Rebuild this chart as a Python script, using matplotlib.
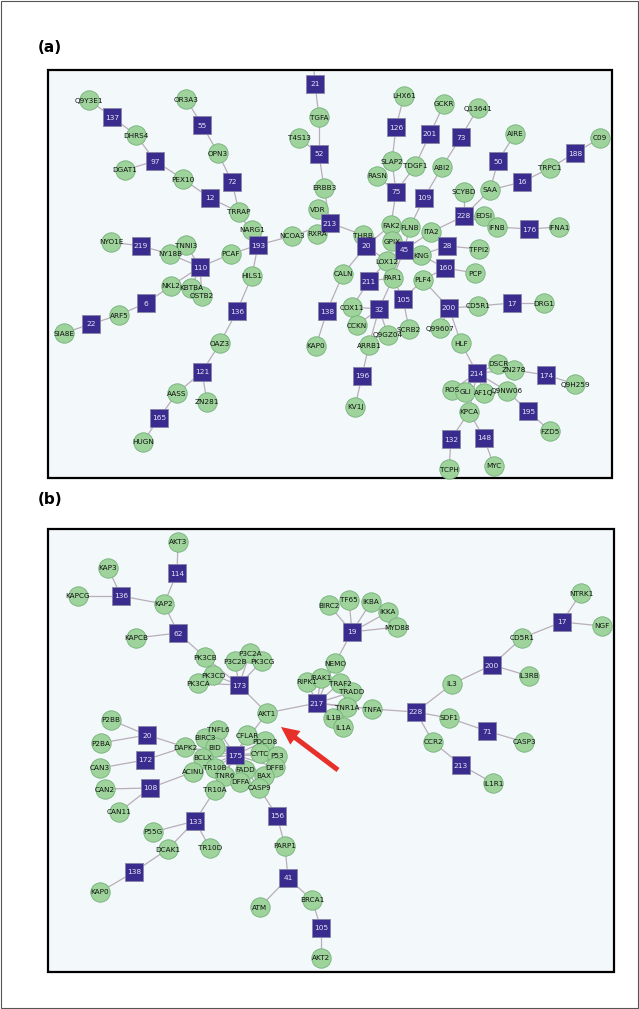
import matplotlib
matplotlib.use("Agg")
import matplotlib.pyplot as plt
from matplotlib.patches import Rectangle, FancyArrow

# ---------------- Panel (a) data ----------------
a_prot = ["Q9Y3E1", "DHRS4", "DGAT1", "PEX10", "TRRAP", "OR3A3", "OPN3", "NYO1E", "TNNI3", "NY18B",
          "PCAF", "NARG1", "HILS1", "NCOA3", "RXRA", "VDR", "ERBB3", "TGFA", "T4S13", "THRB",
          "CALN", "LHX61", "SLAP2", "TDGF1", "RASN", "FAK2", "FLNB", "GPIX", "LOX12", "PAR1",
          "GCKR", "Q13641", "ABI2", "AIRE", "C09", "TRPC1", "SAA", "SCYBD", "EDSI", "IFNB",
          "IFNA1", "ITA2", "TFPI2", "KNG", "PCP", "PLF4", "CD5R1", "DRG1", "Q99607", "HLF",
          "DSCR", "ZN278", "Q9H259", "ROS", "GLI", "AF1Q", "Q9NW06", "KPCA", "FZD5", "TCPH",
          "MYC", "COX11", "CCKN", "Q9GZ04", "SCRB2", "KAP0", "ARRB1", "KV1J", "NKL2", "KBTBA",
          "OSTB2", "ARF5", "SIA8E", "OAZ3", "AASS", "ZN281", "HUGN"]
a_prot_x = [89, 136, 125, 183, 239, 186, 218, 111, 186, 170,
            231, 252, 252, 292, 317, 318, 324, 319, 299, 363,
            343, 404, 392, 415, 377, 391, 410, 392, 387, 393,
            444, 478, 442, 515, 600, 550, 490, 464, 484, 497,
            559, 431, 479, 421, 475, 423, 478, 544, 440, 461,
            498, 514, 575, 452, 465, 484, 507, 469, 550, 449,
            494, 352, 357, 388, 409, 316, 369, 355, 171, 191,
            202, 119, 64, 220, 177, 207, 143]
a_prot_y = [100, 135, 170, 179, 212, 99, 153, 242, 245, 254,
            254, 230, 276, 236, 234, 209, 188, 117, 138, 235,
            274, 96, 161, 166, 176, 225, 227, 241, 261, 278,
            104, 108, 167, 134, 138, 168, 190, 192, 216, 227,
            227, 232, 249, 255, 273, 280, 306, 303, 328, 343,
            364, 370, 384, 390, 392, 393, 391, 412, 431, 469,
            466, 307, 325, 335, 329, 346, 345, 407, 286, 288,
            296, 315, 333, 343, 393, 402, 442]
a_cplx = ["137", "97", "12", "55", "72", "219", "110", "193", "213", "52",
          "21", "20", "211", "138", "32", "196", "105", "45", "126", "75",
          "201", "109", "73", "50", "16", "188", "228", "176", "28", "160",
          "200", "17", "214", "174", "195", "132", "148", "6", "22", "136",
          "121", "165"]
a_cplx_x = [112, 155, 210, 202, 232, 141, 200, 258, 330, 319,
            315, 366, 369, 327, 379, 362, 403, 404, 396, 396,
            430, 424, 461, 498, 522, 575, 464, 529, 447, 445,
            449, 512, 477, 546, 528, 451, 484, 146, 91, 237,
            202, 159]
a_cplx_y = [117, 161, 198, 125, 182, 246, 267, 245, 223, 154,
            84, 246, 281, 311, 309, 376, 299, 250, 127, 192,
            134, 198, 137, 161, 182, 153, 216, 229, 246, 268,
            308, 303, 373, 375, 411, 439, 438, 303, 324, 311,
            372, 418]
a_edges = [("Q9Y3E1", "137"), ("137", "DHRS4"), ("DHRS4", "97"), ("97", "DGAT1"), ("97", "PEX10"),
           ("PEX10", "12"), ("12", "TRRAP"), ("OR3A3", "55"), ("55", "OPN3"), ("OPN3", "72"),
           ("72", "TRRAP"), ("TRRAP", "193"), ("NARG1", "193"), ("PCAF", "193"), ("NCOA3", "193"),
           ("HILS1", "193"), ("NCOA3", "213"), ("RXRA", "213"), ("VDR", "213"), ("ERBB3", "213"),
           ("THRB", "213"), ("ERBB3", "52"), ("52", "TGFA"), ("52", "T4S13"), ("TGFA", "21"),
           ("THRB", "20"), ("20", "CALN"), ("20", "FAK2"), ("20", "LOX12"), ("CALN", "138"),
           ("138", "KAP0"), ("211", "COX11"), ("211", "PAR1"), ("211", "LOX12"), ("32", "COX11"),
           ("32", "CCKN"), ("32", "Q9GZ04"), ("32", "ARRB1"), ("32", "PAR1"), ("ARRB1", "196"),
           ("196", "KV1J"), ("105", "PAR1"), ("105", "SCRB2"), ("105", "PLF4"), ("45", "FAK2"),
           ("45", "GPIX"), ("45", "FLNB"), ("45", "KNG"), ("45", "LOX12"), ("45", "PAR1"),
           ("45", "ITA2"), ("109", "FLNB"), ("109", "ABI2"), ("75", "SLAP2"), ("75", "RASN"),
           ("75", "TDGF1"), ("75", "FAK2"), ("126", "LHX61"), ("126", "SLAP2"), ("201", "GCKR"),
           ("201", "TDGF1"), ("73", "Q13641"), ("73", "ABI2"), ("228", "SCYBD"), ("228", "SAA"),
           ("228", "EDSI"), ("228", "ITA2"), ("228", "IFNB"), ("50", "AIRE"), ("50", "SAA"),
           ("16", "SAA"), ("16", "TRPC1"), ("188", "TRPC1"), ("188", "C09"), ("176", "IFNB"),
           ("176", "IFNA1"), ("28", "ITA2"), ("28", "TFPI2"), ("28", "KNG"), ("160", "KNG"),
           ("160", "PCP"), ("160", "PLF4"), ("200", "PLF4"), ("200", "CD5R1"), ("200", "Q99607"),
           ("200", "HLF"), ("17", "CD5R1"), ("17", "DRG1"), ("214", "HLF"), ("214", "DSCR"),
           ("214", "ZN278"), ("214", "ROS"), ("214", "GLI"), ("214", "AF1Q"), ("214", "Q9NW06"),
           ("214", "KPCA"), ("174", "ZN278"), ("174", "Q9H259"), ("195", "Q9NW06"), ("195", "FZD5"),
           ("132", "KPCA"), ("132", "TCPH"), ("148", "KPCA"), ("148", "MYC"), ("219", "NYO1E"),
           ("219", "NY18B"), ("110", "NY18B"), ("110", "TNNI3"), ("110", "PCAF"), ("110", "NKL2"),
           ("110", "KBTBA"), ("110", "OSTB2"), ("6", "NKL2"), ("6", "ARF5"), ("22", "ARF5"),
           ("22", "SIA8E"), ("136", "HILS1"), ("136", "OAZ3"), ("121", "OAZ3"), ("121", "AASS"),
           ("121", "ZN281"), ("165", "AASS"), ("165", "HUGN")]

# ---------------- Panel (b) data ----------------
b_prot = ["AKT3", "KAP3", "KAPCG", "KAP2", "KAPCB", "PK3CB", "P3C2B", "P3C2A", "PK3CG", "PK3CD",
          "PK3CA", "BIRC2", "TF65", "IKBA", "IKKA", "MYD88", "NEMO", "RIPK1", "IRAK1", "TRAF2",
          "TRADD", "TNR1A", "TNFA", "IL1B", "IL1A", "AKT1", "NTRK1", "NGF", "CD5R1", "IL3RB",
          "IL3", "SDF1", "CASP3", "CCR2", "IL1R1", "P2BB", "P2BA", "DAPK2", "CAN3", "CAN2",
          "CAN11", "BIRC3", "TNFL6", "BID", "BCLX", "ACINU", "TR10B", "TNR6", "TR10A", "CFLAR",
          "PDCD8", "CYTC", "P53", "DFFB", "FADD", "BAX", "DFFA", "CASP9", "P55G", "TR10D",
          "DCAK1", "KAP0", "PARP1", "ATM", "BRCA1", "AKT2"]
b_prot_x = [178, 108, 78, 164, 136, 205, 235, 250, 262, 213,
            198, 329, 349, 371, 388, 397, 335, 307, 321, 340,
            352, 347, 372, 333, 343, 267, 581, 602, 522, 529,
            452, 449, 524, 433, 493, 111, 101, 185, 100, 105,
            119, 205, 218, 215, 203, 193, 215, 225, 215, 247,
            265, 260, 277, 275, 245, 264, 240, 259, 153, 210,
            168, 100, 285, 260, 312, 321]
b_prot_y = [542, 568, 596, 604, 638, 657, 661, 653, 661, 675,
            683, 605, 600, 602, 612, 627, 663, 682, 678, 683,
            692, 707, 709, 718, 727, 713, 593, 626, 638, 676,
            684, 718, 742, 742, 783, 720, 743, 747, 768, 789,
            812, 738, 730, 747, 758, 772, 768, 776, 790, 735,
            741, 753, 756, 767, 770, 776, 782, 788, 832, 848,
            849, 892, 846, 907, 900, 958]
b_cplx = ["114", "136", "62", "173", "19", "217", "228", "17", "200", "71",
          "213", "20", "172", "108", "175", "133", "138", "156", "41", "105"]
b_cplx_x = [177, 121, 178, 239, 352, 317, 416, 562, 492, 487,
            461, 147, 145, 150, 235, 195, 134, 277, 288, 321]
b_cplx_y = [573, 596, 633, 685, 632, 703, 712, 622, 665, 731,
            765, 735, 760, 788, 755, 821, 872, 816, 878, 928]
b_edges = [("AKT3", "114"), ("114", "KAP2"), ("KAP3", "136"), ("KAPCG", "136"), ("136", "KAP2"),
           ("KAP2", "62"), ("KAPCB", "62"), ("62", "PK3CB"), ("173", "PK3CB"), ("173", "P3C2B"),
           ("173", "P3C2A"), ("173", "PK3CG"), ("173", "PK3CD"), ("173", "PK3CA"), ("173", "AKT1"),
           ("AKT1", "217"), ("AKT1", "175"), ("217", "RIPK1"), ("217", "IRAK1"), ("217", "TRAF2"),
           ("217", "TRADD"), ("217", "TNR1A"), ("217", "IL1B"), ("217", "IL1A"), ("217", "NEMO"),
           ("217", "TNFA"), ("19", "NEMO"), ("19", "BIRC2"), ("19", "TF65"), ("19", "IKBA"),
           ("19", "IKKA"), ("19", "MYD88"), ("228", "TNFA"), ("228", "IL3"), ("228", "SDF1"),
           ("228", "CCR2"), ("200", "IL3"), ("200", "CD5R1"), ("200", "IL3RB"), ("17", "CD5R1"),
           ("17", "NTRK1"), ("17", "NGF"), ("71", "SDF1"), ("71", "CASP3"), ("213", "CCR2"),
           ("213", "IL1R1"), ("20", "P2BB"), ("20", "P2BA"), ("20", "DAPK2"), ("172", "CAN3"),
           ("172", "DAPK2"), ("108", "CAN2"), ("108", "CAN11"), ("108", "ACINU"), ("175", "BIRC3"),
           ("175", "TNFL6"), ("175", "BID"), ("175", "BCLX"), ("175", "DAPK2"), ("175", "ACINU"),
           ("175", "TR10B"), ("175", "TNR6"), ("175", "DFFA"), ("175", "FADD"), ("175", "CASP9"),
           ("175", "CFLAR"), ("175", "PDCD8"), ("175", "CYTC"), ("175", "P53"), ("175", "DFFB"),
           ("175", "BAX"), ("175", "TR10A"), ("133", "TR10A"), ("133", "P55G"), ("133", "TR10D"),
           ("133", "DCAK1"), ("138", "DCAK1"), ("138", "KAP0"), ("156", "CASP9"), ("156", "PARP1"),
           ("41", "PARP1"), ("41", "ATM"), ("41", "BRCA1"), ("105", "BRCA1"), ("105", "AKT2")]

# ---------------- drawing ----------------
W, H = 639, 1009
fig = plt.figure(figsize=(W / 100, H / 100), dpi=100)
ax = fig.add_axes([0, 0, 1, 1])
ax.set_xlim(0, W)
ax.set_ylim(H, 0)
ax.axis("off")

BG = "#f3f8fb"
GREEN = "#9ed49b"
GREEN_EDGE = "#73b07a"
SQ = "#3a2b8e"
EDGE = "#b9aeb8"

# outer border
ax.add_patch(Rectangle((0.8, 0.8), W - 1.6, H - 1.6, fill=False, ec="#555555", lw=0.8))

frames = [(48, 70, 564, 408), (48, 529, 566, 443)]
for (fx, fy, fw, fh) in frames:
    ax.add_patch(Rectangle((fx, fy), fw, fh, fc=BG, ec="black", lw=1.6, zorder=1))

ax.text(38, 48, "(a)", fontsize=11, fontweight="bold", va="center", ha="left")
ax.text(38, 500, "(b)", fontsize=11, fontweight="bold", va="center", ha="left")


def draw_panel(prot, px, py, cplx, cx, cy, edges, extra=None):
    pos = {}
    for n, x, y in zip(prot, px, py):
        pos[n] = (x, y)
    for n, x, y in zip(cplx, cx, cy):
        pos[n] = (x, y)
    if extra:
        pos.update(extra)
    for u, v in edges:
        (x1, y1), (x2, y2) = pos[u], pos[v]
        ax.plot([x1, x2], [y1, y2], color=EDGE, lw=0.9, zorder=2, solid_capstyle="butt")
    ax.scatter(px, py, s=195, c=GREEN, edgecolors=GREEN_EDGE, linewidths=0.6, zorder=3)
    ax.scatter(cx, cy, s=175, marker="s", c=SQ, edgecolors="#8a86a8", linewidths=0.6, zorder=4)
    for n, x, y in zip(prot, px, py):
        ax.text(x, y + 0.5, n, fontsize=5.2, ha="center", va="center", color="#111111", zorder=6)
    for n, x, y in zip(cplx, cx, cy):
        ax.text(x, y + 0.5, n, fontsize=5.4, ha="center", va="center", color="#e6e4f6", zorder=6)


draw_panel(a_prot, a_prot_x, a_prot_y, a_cplx, a_cplx_x, a_cplx_y,
           a_edges + [("21", "_top")], extra={"_top": (314, 71)})
draw_panel(b_prot, b_prot_x, b_prot_y, b_cplx, b_cplx_x, b_cplx_y, b_edges)

# red arrow pointing at AKT1
arrow_tail = (338, 770)
arrow_head = (281, 727)
ax.add_patch(FancyArrow(arrow_tail[0], arrow_tail[1],
                        arrow_head[0] - arrow_tail[0], arrow_head[1] - arrow_tail[1],
                        width=5, head_width=17, head_length=18, length_includes_head=True,
                        color="#e8302a", ec="none", zorder=7))

fig.savefig("out.png", dpi=100)
